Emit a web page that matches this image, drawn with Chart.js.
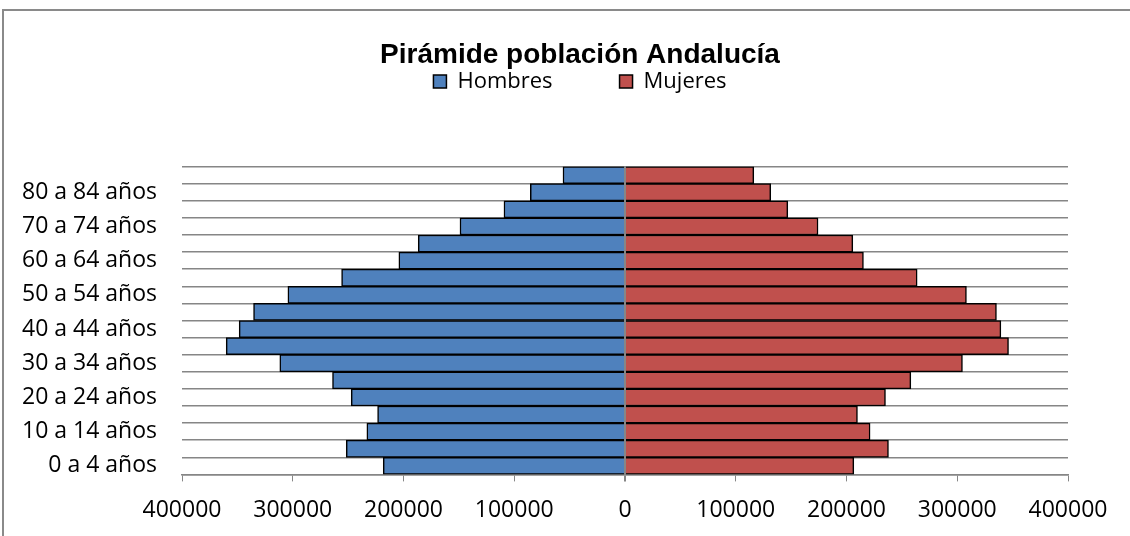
<!DOCTYPE html>
<html>
<head>
<meta charset="utf-8">
<title>Pirámide población Andalucía</title>
<script src="https://cdn.jsdelivr.net/npm/chart.js@4/dist/chart.umd.min.js"></script>
<style>
  html, body { margin: 0; padding: 0; background: #fff; overflow: hidden; }
  #wrap { position: relative; width: 1130px; height: 536px; }
  #frame { position: absolute; left: 2px; top: 9px; width: 1200px; height: 600px; border: 2px solid #8a8a8a; }
  #chart { position: absolute; left: 0; top: 0; }
</style>
</head>
<body>
<div id="wrap">
  <div id="frame"></div>
  <canvas id="chart" width="1130" height="536"></canvas>
</div>
<script>
// age groups, youngest first
const ageGroups = ['0 a 4 años', '5 a 9 años', '10 a 14 años', '15 a 19 años', '20 a 24 años',
  '25 a 29 años', '30 a 34 años', '35 a 39 años', '40 a 44 años', '45 a 49 años',
  '50 a 54 años', '55 a 59 años', '60 a 64 años', '65 a 69 años', '70 a 74 años',
  '75 a 79 años', '80 a 84 años', '85 y más años'];
const hombres = [218300, 251700, 233100, 223400, 247200, 264100, 311700, 360100, 348400,
  335400, 304400, 255900, 204200, 186700, 149000, 109300, 85500, 56000];
const mujeres = [206600, 237900, 221300, 209900, 235200, 258100, 304700, 346300, 339400,
  335400, 308300, 263800, 215300, 205700, 174300, 147000, 131600, 116300];
const xTicks = [-400000, -300000, -200000, -100000, 0, 100000, 200000, 300000, 400000];

const grey = '#868686';
const labelFont = "23px 'Open Sans', sans-serif";

// only every other age group gets a label
const shownLabel = i => (i % 2 === 0 ? ageGroups[i] : '');

// widest label, so the mirrored labels can be right aligned next to the plot
const m = document.createElement('canvas').getContext('2d');
m.font = labelFont;
const widest = Math.max(...ageGroups.map((l, i) => m.measureText(shownLabel(i)).width));

// extra room between the legend and the plot
const legendGap = {
  id: 'legendGap',
  beforeInit(chart) {
    const fit = chart.legend.fit;
    chart.legend.fit = function () {
      fit.bind(chart.legend)();
      this.height += 64;
    };
  }
};

Chart.defaults.font.family = "'Open Sans', sans-serif";
Chart.defaults.color = '#000';

new Chart(document.getElementById('chart'), {
  type: 'bar',
  data: {
    labels: ageGroups,
    datasets: [
      {
        label: 'Hombres',
        data: hombres.map(v => -v),
        backgroundColor: '#4F81BD',
        borderColor: '#000',
        borderWidth: 1.5
      },
      {
        label: 'Mujeres',
        data: mujeres,
        backgroundColor: '#C0504D',
        borderColor: '#000',
        borderWidth: 1.5
      }
    ]
  },
  options: {
    indexAxis: 'y',
    responsive: false,
    animation: false,
    barPercentage: 1,
    categoryPercentage: 1,
    layout: { padding: { left: 92, right: 62, top: 0, bottom: -3 } },
    scales: {
      x: {
        stacked: true,
        min: xTicks[0],
        max: xTicks[xTicks.length - 1],
        z: 1,
        afterBuildTicks: scale => { scale.ticks = xTicks.map(v => ({ value: v })); },
        ticks: {
          font: { size: 23 },
          padding: 15,
          callback: v => String(Math.abs(v))
        },
        grid: {
          color: ctx => (ctx.tick && ctx.tick.value === 0 ? grey : 'rgba(0,0,0,0)'),
          lineWidth: ctx => (ctx.tick && ctx.tick.value === 0 ? 2 : 1),
          tickColor: grey,
          tickLength: 7
        },
        border: { color: grey, width: 1.5 }
      },
      y: {
        stacked: true,
        reverse: true,
        afterFit: scale => { scale.width = 90; },
        ticks: {
          font: { size: 23 },
          mirror: true,
          crossAlign: 'far',
          padding: -(widest + 25),
          autoSkip: false,
          callback: (v, i) => shownLabel(i)
        },
        grid: { color: grey, lineWidth: 1.5, drawTicks: false },
        border: { display: false }
      }
    },
    plugins: {
      title: {
        display: true,
        text: 'Pirámide población Andalucía',
        color: '#000',
        font: { family: "'Liberation Sans', Arial, sans-serif", size: 28, weight: 'bold' },
        padding: { top: 38.5, bottom: -68.5 }
      },
      legend: {
        display: true,
        position: 'top',
        labels: {
          font: { size: 22 },
          boxWidth: 13,
          boxHeight: 13,
          padding: 67
        }
      },
      tooltip: { enabled: false }
    }
  },
  plugins: [legendGap]
});
</script>
</body>
</html>
